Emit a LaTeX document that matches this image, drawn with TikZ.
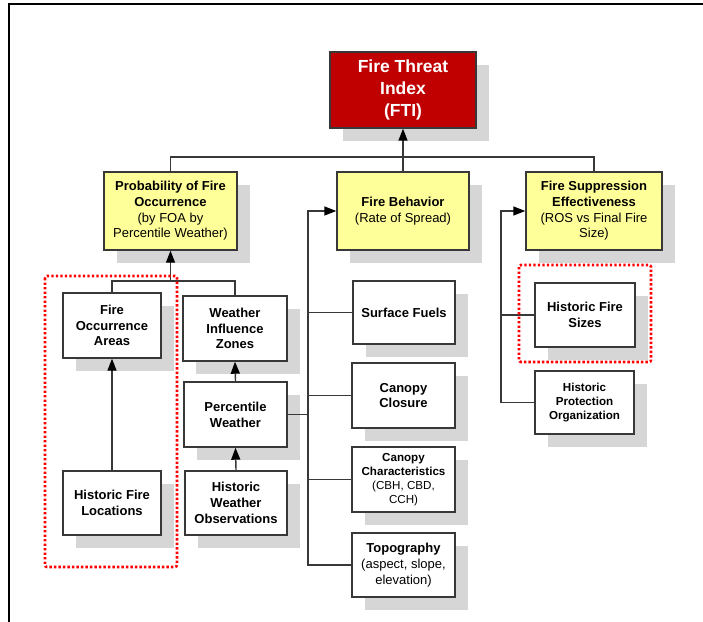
\documentclass[tikz,border=0pt]{standalone}
\usepackage{fontspec}
\setmainfont{Liberation Sans}
\usetikzlibrary{arrows.meta,shadows,calc}
\definecolor{ftired}{HTML}{C00000}
\definecolor{boxyellow}{HTML}{FFFF99}
\definecolor{shadowgray}{HTML}{D6D6D6}
\definecolor{linegray}{HTML}{383838}
\definecolor{dotred}{HTML}{FF0000}
\tikzset{
  box/.style={draw=linegray, line width=1.4bp, fill=white, inner sep=0pt, align=center, text=black,
    drop shadow={shadow xshift=13bp, shadow yshift=-13bp, fill=shadowgray, opacity=1},
    font=\fontsize{13bp}{15.7bp}\selectfont},
  smalltext/.style={font=\fontsize{11.6bp}{13.8bp}\selectfont},
  ybox/.style={box, fill=boxyellow},
  redbox/.style={box, fill=ftired, text=white, font=\fontsize{17.5bp}{21.7bp}\selectfont\bfseries},
  sz/.style 2 args={minimum width=#1bp, minimum height=#2bp},
  conn/.style={draw=linegray, line width=1.4bp},
  arr/.style={conn, -{Triangle[length=12bp,width=9bp,color=black]}},
  dotframe/.style={draw=dotred, line width=2.6bp, dash pattern=on 2.4bp off 2.1bp, rounded corners=2bp}
}
\begin{document}
\begin{tikzpicture}[x=1bp,y=-1bp]
\useasboundingbox (0,0) rectangle (703,622);
% outer frame lines
\draw[line width=2bp, black] (8.7,622) -- (8.7,4.5) -- (703,4.5);

% top level
\node[redbox, sz={146}{76}] (fti) at (403,90) {Fire Threat\\Index\\(FTI)};
\node[ybox, sz={133}{78}] (prob) at (170.5,211) {\textbf{Probability of Fire}\\\textbf{Occurrence}\\(by FOA by\\Percentile Weather)};
\node[ybox, sz={132}{78}] (fb) at (403,211) {\textbf{Fire Behavior}\\(Rate of Spread)};
\node[ybox, sz={136}{78}] (fs) at (594,211) {\textbf{Fire Suppression}\\\textbf{Effectiveness}\\(ROS vs Final Fire\\Size)};

% left group
\node[box, sz={98}{65}] (foa) at (112,325.5) {\textbf{Fire}\\\textbf{Occurrence}\\\textbf{Areas}};
\node[box, sz={104}{65}] (wiz) at (235,328.5) {\textbf{Weather}\\\textbf{Influence}\\\textbf{Zones}};
\node[box, sz={103}{65}] (pw) at (235.5,414.5) {\textbf{Percentile}\\\textbf{Weather}};
\node[box, sz={102}{64}] (hwo) at (236,503) {\textbf{Historic}\\\textbf{Weather}\\\textbf{Observations}};
\node[box, sz={98}{64}] (hfl) at (112,503) {\textbf{Historic Fire}\\\textbf{Locations}};

% middle group
\node[box, sz={102}{63}] (sf) at (404,312.5) {\textbf{Surface Fuels}};
\node[box, sz={103}{65}] (cc) at (403.5,395.5) {\textbf{Canopy}\\\textbf{Closure}};
\node[box, smalltext, sz={103}{65}] (cch) at (403.5,479.5) {\textbf{Canopy}\\\textbf{Characteristics}\\(CBH, CBD,\\CCH)};
\node[box, sz={103}{64}] (topo) at (403.5,565) {\textbf{Topography}\\(aspect, slope,\\elevation)};

% right group
\node[box, sz={100}{64}] (hfs) at (585,315) {\textbf{Historic Fire}\\\textbf{Sizes}};
\node[box, smalltext, sz={99}{63}] (hpo) at (584.5,402.5) {\textbf{Historic}\\\textbf{Protection}\\\textbf{Organization}};

% connectors: top
\coordinate (hub) at (403,157);
\draw[arr] (fb.north) -- (fti.south);
\draw[conn] (prob.north) |- (hub) -| (fs.north);

% connectors: probability group
\coordinate (phub) at (170.5,281);
\draw[conn] (foa.north) |- (phub) -| (wiz.north);
\draw[arr] (phub) -- (prob.south);
\draw[arr] (hfl.north) -- (foa.south);
\draw[arr] (pw.north) -- (wiz.south);
\draw[arr] (hwo.north) -- (pw.south);

% connectors: fire behaviour trunk
\coordinate (tr) at (308,211);
\draw[arr] (topo.west) -| (tr) -- (fb.west);
\draw[conn] (sf.west) -- (sf.west -| tr);
\draw[conn] (cc.west) -- (cc.west -| tr);
\draw[conn] (cch.west) -- (cch.west -| tr);
\draw[conn] (pw.east) -- (pw.east -| tr);

% connectors: suppression trunk
\coordinate (rt) at (501,211);
\draw[arr] (hpo.west) -| (rt) -- (fs.west);
\draw[conn] (hfs.west) -- (hfs.west -| rt);

% red dotted highlight frames
\draw[dotframe] (45,276) rectangle (177,567);
\draw[dotframe] (519,265) rectangle (651,362);
\end{tikzpicture}
\end{document}
